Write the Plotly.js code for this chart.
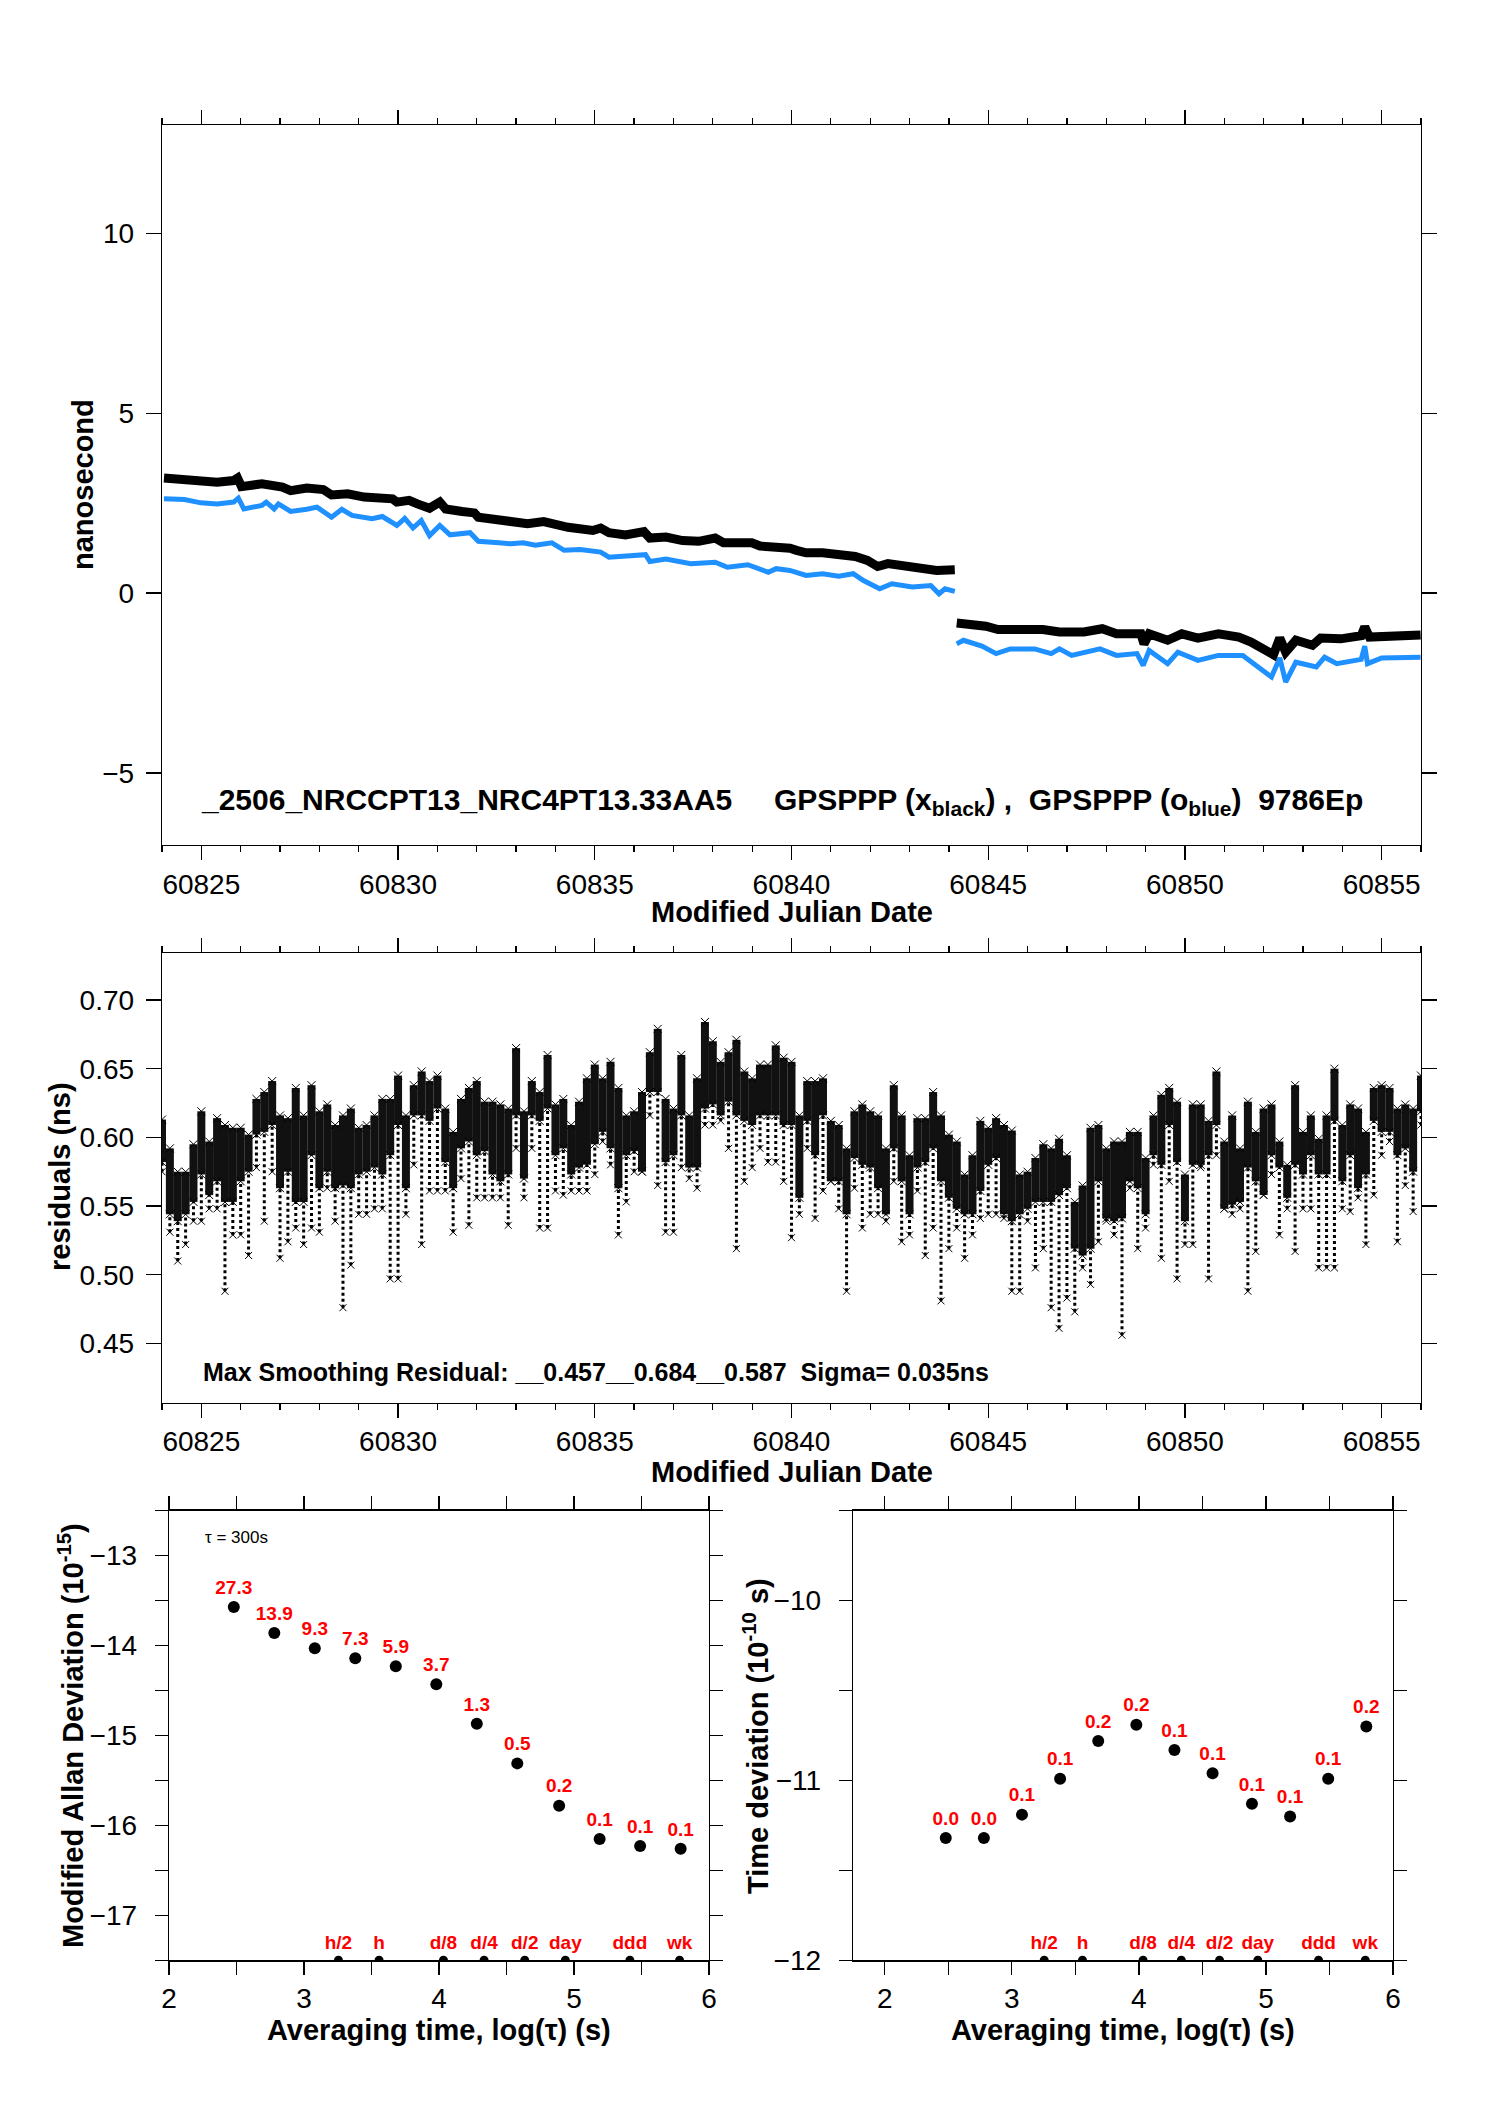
<!DOCTYPE html>
<html><head><meta charset="utf-8">
<script src="https://cdn.plot.ly/plotly-3.0.1.min.js"></script>
<style>html,body{margin:0;padding:0;background:#fff;} #chart{width:1488px;height:2105px;}</style>
</head><body><div id="chart"></div>
<script>
// ---------- Top panel: time series (nanosecond) ----------
const mjdBlack = [60824.05,60824.57,60824.99,60825.40,60825.82,60825.92,60826.02,60826.54,60827.06,60827.27,60827.68,60828.10,60828.31,60828.72,60829.14,60829.55,60829.86,60829.97,60830.28,60830.49,60830.80,60831.06,60831.21,60831.63,60831.94,60832.04,60832.56,60832.97,60833.29,60833.70,60834.01,60834.32,60834.95,60835.15,60835.36,60835.78,60836.25,60836.40,60836.81,60837.23,60837.64,60838.06,60838.27,60838.68,60838.99,60839.20,60839.72,60839.96,60840.13,60840.37,60840.79,60841.20,60841.62,60841.93,60842.19,60842.45,60842.86,60843.28,60843.69,60844.15,null,
60844.20,60844.52,60844.94,60845.25,60845.77,60846.39,60846.81,60847.43,60847.90,60848.26,60848.88,60848.96,60849.09,60849.56,60849.92,60850.33,60850.85,60851.37,60851.68,60851.99,60852.25,60852.41,60852.56,60852.82,60853.24,60853.45,60853.96,60854.48,60854.57,60854.69,60855.31,60855.99];
const nsBlack = [3.20,3.16,3.11,3.08,3.13,3.20,2.96,3.04,2.95,2.85,2.92,2.88,2.73,2.76,2.67,2.67,2.62,2.53,2.58,2.48,2.36,2.53,2.34,2.27,2.23,2.11,2.05,1.97,1.93,1.99,1.90,1.83,1.74,1.81,1.68,1.62,1.71,1.53,1.56,1.46,1.44,1.53,1.40,1.37,1.40,1.31,1.31,1.25,1.19,1.12,1.12,1.08,1.02,0.91,0.74,0.82,0.77,0.70,0.63,0.65,null,
-0.83,-0.85,-0.92,-1.01,-0.99,-1.01,-1.08,-1.08,-0.99,-1.13,-1.13,-1.41,-1.13,-1.31,-1.13,-1.25,-1.13,-1.22,-1.36,-1.57,-1.71,-1.25,-1.64,-1.31,-1.45,-1.25,-1.27,-1.18,-0.94,-1.22,-1.18,-1.16];
const mjdBlue = [60824.05,60824.57,60824.99,60825.40,60825.82,60825.94,60826.08,60826.54,60826.65,60826.85,60826.96,60827.27,60827.68,60827.94,60828.31,60828.57,60828.83,60829.34,60829.60,60829.97,60830.17,60830.38,60830.59,60830.80,60831.06,60831.32,60831.83,60832.04,60832.56,60832.87,60833.18,60833.49,60833.91,60834.22,60834.63,60835.15,60835.36,60835.88,60836.29,60836.40,60836.81,60837.44,60838.06,60838.37,60838.89,60839.41,60839.61,60839.96,60840.37,60840.79,60841.20,60841.57,60841.83,60842.24,60842.55,60843.07,60843.54,60843.75,60843.90,60844.15,null,
60844.20,60844.37,60844.84,60845.20,60845.56,60846.18,60846.60,60846.81,60847.12,60847.84,60848.26,60848.78,60848.94,60849.09,60849.56,60849.82,60850.33,60850.85,60851.47,60851.79,60852.20,60852.41,60852.56,60852.82,60853.34,60853.55,60853.86,60854.48,60854.57,60854.64,60855.00,60855.99];
const nsBlue = [2.62,2.60,2.51,2.48,2.53,2.64,2.34,2.44,2.53,2.34,2.48,2.27,2.33,2.39,2.11,2.33,2.16,2.07,2.13,1.88,2.08,1.81,2.02,1.60,1.88,1.62,1.68,1.44,1.40,1.37,1.40,1.33,1.40,1.19,1.21,1.14,1.00,1.05,1.07,0.88,0.95,0.82,0.86,0.72,0.79,0.58,0.68,0.63,0.49,0.54,0.47,0.54,0.35,0.12,0.26,0.17,0.21,-0.02,0.12,0.05,null,
-1.41,-1.31,-1.47,-1.68,-1.55,-1.55,-1.68,-1.55,-1.73,-1.55,-1.73,-1.68,-2.01,-1.59,-1.96,-1.64,-1.87,-1.73,-1.73,-2.01,-2.33,-1.80,-2.47,-1.92,-2.05,-1.78,-1.96,-1.84,-1.47,-1.96,-1.80,-1.78];

// ---------- Middle panel: residuals (ns), per 0.2-day slice ----------
const resMjd = [60824.0,60824.2,60824.4,60824.6,60824.8,
60825.0,60825.2,60825.4,60825.6,60825.8,60826.0,60826.2,60826.4,60826.6,60826.8,
60827.0,60827.2,60827.4,60827.6,60827.8,60828.0,60828.2,60828.4,60828.6,60828.8,
60829.0,60829.2,60829.4,60829.6,60829.8,60830.0,60830.2,60830.4,60830.6,60830.8,
60831.0,60831.2,60831.4,60831.6,60831.8,60832.0,60832.2,60832.4,60832.6,60832.8,
60833.0,60833.2,60833.4,60833.6,60833.8,60834.0,60834.2,60834.4,60834.6,60834.8,
60835.0,60835.2,60835.4,60835.6,60835.8,60836.0,60836.2,60836.4,60836.6,60836.8,
60837.0,60837.2,60837.4,60837.6,60837.8,60838.0,60838.2,60838.4,60838.6,60838.8,
60839.0,60839.2,60839.4,60839.6,60839.8,60840.0,60840.2,60840.4,60840.6,60840.8,
60841.0,60841.2,60841.4,60841.6,60841.8,60842.0,60842.2,60842.4,60842.6,60842.8,
60843.0,60843.2,60843.4,60843.6,60843.8,60844.0,60844.2,60844.4,60844.6,60844.8,
60845.0,60845.2,60845.4,60845.6,60845.8,60846.0,60846.2,60846.4,60846.6,60846.8,
60847.0,60847.2,60847.4,60847.6,60847.8,60848.0,60848.2,60848.4,60848.6,60848.8,
60849.0,60849.2,60849.4,60849.6,60849.8,60850.0,60850.2,60850.4,60850.6,60850.8,
60851.0,60851.2,60851.4,60851.6,60851.8,60852.0,60852.2,60852.4,60852.6,60852.8,
60853.0,60853.2,60853.4,60853.6,60853.8,60854.0,60854.2,60854.4,60854.6,60854.8,
60855.0,60855.2,60855.4,60855.6,60855.8,60856.0];
const resHi = [0.613,0.592,0.575,0.575,0.595,0.619,0.597,0.614,0.609,0.607,0.607,0.602,0.628,0.633,0.641,0.616,0.614,0.636,0.616,0.638,0.619,0.624,0.609,0.616,0.621,0.607,0.609,0.616,0.628,0.628,0.645,0.616,0.638,0.648,0.641,0.645,0.621,0.604,0.628,0.636,0.641,0.626,0.626,0.624,0.621,0.665,0.619,0.641,0.633,0.660,0.624,0.628,0.609,0.626,
0.643,0.653,0.643,0.655,0.636,0.616,0.619,0.633,0.662,0.679,0.628,0.621,0.660,0.616,0.643,0.684,0.670,0.655,0.662,0.671,0.648,0.643,0.653,0.653,0.667,0.658,0.655,0.616,0.641,0.641,0.643,0.612,0.609,0.592,0.619,0.624,0.619,0.616,0.592,0.638,0.616,0.587,0.614,0.614,0.633,0.616,0.602,0.597,0.573,0.587,0.612,0.607,0.614,
0.609,0.605,0.573,0.575,0.585,0.595,0.592,0.599,0.587,0.553,0.565,0.607,0.609,0.592,0.597,0.597,0.604,0.604,0.585,0.616,0.631,0.636,0.626,0.573,0.624,0.624,0.612,0.648,0.597,0.616,0.592,0.626,0.604,0.621,0.624,0.597,0.580,0.638,0.604,0.616,0.599,0.616,0.650,0.609,0.624,0.621,0.604,0.636,0.638,0.636,0.621,0.624,0.621,0.645];
const resLo = [0.582,0.544,0.539,0.544,0.553,0.573,0.558,0.568,0.553,0.553,0.568,0.575,0.602,0.604,0.609,0.563,0.575,0.553,0.553,0.587,0.563,0.575,0.563,0.565,0.563,0.573,0.575,0.578,0.573,0.587,0.609,0.563,0.616,0.616,0.612,0.621,0.582,0.563,0.592,0.597,0.587,0.590,0.573,0.568,0.573,0.616,0.570,0.616,0.612,0.621,0.587,0.592,0.573,0.578,
0.580,0.595,0.604,0.592,0.563,0.587,0.590,0.575,0.633,0.633,0.582,0.587,0.616,0.578,0.578,0.621,0.624,0.616,0.626,0.616,0.612,0.609,0.616,0.616,0.616,0.609,0.609,0.556,0.612,0.587,0.616,0.568,0.568,0.544,0.585,0.580,0.578,0.563,0.544,0.592,0.568,0.544,0.578,0.582,0.592,0.568,0.556,0.548,0.544,0.544,0.561,0.580,0.585,
0.544,0.539,0.544,0.548,0.553,0.553,0.553,0.558,0.563,0.519,0.514,0.519,0.568,0.541,0.539,0.541,0.568,0.563,0.544,0.587,0.580,0.609,0.582,0.539,0.580,0.580,0.587,0.609,0.548,0.551,0.553,0.578,0.568,0.558,0.587,0.578,0.556,0.580,0.573,0.587,0.573,0.573,0.612,0.568,0.587,0.563,0.573,0.612,0.604,0.604,0.587,0.592,0.575,0.619];
const resTail = [0.575,0.531,0.510,0.522,0.539,0.539,0.548,0.548,0.488,0.529,0.529,0.514,0.578,0.539,0.575,0.512,0.524,0.534,0.522,0.534,0.531,0.563,0.539,0.476,0.507,0.544,0.544,0.548,0.548,0.497,0.497,0.544,0.580,0.522,0.561,0.561,0.561,0.531,0.570,0.536,0.556,0.556,0.556,0.556,0.536,0.592,0.556,0.592,0.534,0.534,0.561,0.558,0.561,0.561,
0.561,0.573,0.597,0.580,0.529,0.553,0.575,0.575,0.616,0.565,0.531,0.531,0.578,0.570,0.563,0.609,0.609,0.612,0.592,0.519,0.568,0.578,0.592,0.582,0.582,0.568,0.527,0.544,0.592,0.541,0.561,0.568,0.548,0.488,0.563,0.534,0.544,0.544,0.539,0.568,0.524,0.529,0.561,0.514,0.534,0.481,0.519,0.534,0.512,0.529,0.541,0.544,0.544,
0.541,0.488,0.488,0.539,0.505,0.519,0.476,0.461,0.483,0.473,0.505,0.493,0.524,0.539,0.529,0.456,0.563,0.519,0.534,0.580,0.512,0.568,0.497,0.522,0.522,0.578,0.497,0.587,0.548,0.544,0.548,0.488,0.517,0.558,0.573,0.529,0.548,0.517,0.548,0.548,0.505,0.505,0.505,0.548,0.546,0.556,0.522,0.558,0.587,0.597,0.524,0.565,0.546,0.609];

// ---------- Bottom panels: stability ----------
const logTau = [2.48,2.78,3.08,3.38,3.68,3.98,4.28,4.58,4.89,5.19,5.49,5.79];
const modAdev = [-13.57,-13.86,-14.03,-14.14,-14.23,-14.43,-14.87,-15.31,-15.78,-16.15,-16.23,-16.26];
const modAdevLabels = ['27.3','13.9','9.3','7.3','5.9','3.7','1.3','0.5','0.2','0.1','0.1','0.1'];
const tdev = [-11.32,-11.32,-11.19,-10.99,-10.78,-10.69,-10.83,-10.96,-11.13,-11.20,-10.99,-10.70];
const tdevLabels = ['0.0','0.0','0.1','0.1','0.2','0.2','0.1','0.1','0.1','0.1','0.1','0.2'];
const periodTau = [3.255,3.556,4.033,4.334,4.635,4.936,5.414,5.782];
const periodLabels = ['h/2','h','d/8','d/4','d/2','day','ddd','wk'];
const adevFloor = -17.5, tdevFloor = -12;

const FONT = 'Liberation Sans, Arial, Helvetica, sans-serif';
const RED = '#ff0000';

function segments(xs, a, b) {
  const X = [], Y = [];
  for (let i = 0; i < xs.length; i++) { X.push(xs[i], xs[i], null); Y.push(a[i], b[i], null); }
  return {X, Y};
}
const core = segments(resMjd, resLo, resHi);
const tail = segments(resMjd, resTail, resLo);
const xMark = (size) => ({symbol: 'x-thin-open', size: size, color: '#000', line: {width: 1, color: '#000'}});

const traces = [
  {x: mjdBlue, y: nsBlue, mode: 'lines', line: {color: '#1e90ff', width: 5}, xaxis: 'x', yaxis: 'y', connectgaps: false},
  {x: mjdBlack, y: nsBlack, mode: 'lines', line: {color: '#000', width: 9}, xaxis: 'x', yaxis: 'y', connectgaps: false},

  {x: tail.X, y: tail.Y, mode: 'lines', line: {color: '#000', width: 3, dash: 'dot'}, xaxis: 'x2', yaxis: 'y2', connectgaps: false},
  {x: resMjd, y: resTail, mode: 'markers', marker: xMark(7), xaxis: 'x2', yaxis: 'y2'},
  {x: core.X, y: core.Y, mode: 'lines', line: {color: '#111', width: 8}, xaxis: 'x2', yaxis: 'y2', connectgaps: false},
  {x: resMjd, y: resHi, mode: 'markers', marker: xMark(8), xaxis: 'x2', yaxis: 'y2'},
  {x: resMjd, y: resLo, mode: 'markers', marker: xMark(8), xaxis: 'x2', yaxis: 'y2'},

  {x: logTau, y: modAdev, mode: 'markers+text', text: modAdevLabels, textposition: 'top center',
   textfont: {family: FONT, size: 19, color: RED, weight: 'bold'}, marker: {size: 12, color: '#000'}, xaxis: 'x3', yaxis: 'y3', cliponaxis: false},
  {x: periodTau, y: periodTau.map(() => adevFloor), mode: 'markers+text', text: periodLabels, textposition: 'top center',
   textfont: {family: FONT, size: 19, color: RED, weight: 'bold'}, marker: {size: 9, color: '#000'}, xaxis: 'x3', yaxis: 'y3'},

  {x: logTau, y: tdev, mode: 'markers+text', text: tdevLabels, textposition: 'top center',
   textfont: {family: FONT, size: 19, color: RED, weight: 'bold'}, marker: {size: 12, color: '#000'}, xaxis: 'x4', yaxis: 'y4', cliponaxis: false},
  {x: periodTau, y: periodTau.map(() => tdevFloor), mode: 'markers+text', text: periodLabels, textposition: 'top center',
   textfont: {family: FONT, size: 19, color: RED, weight: 'bold'}, marker: {size: 9, color: '#000'}, xaxis: 'x4', yaxis: 'y4'}
];

const base = {
  showline: true, linecolor: '#000', linewidth: 1.3, mirror: 'ticks', ticks: 'outside',
  tickcolor: '#000', tickwidth: 1.3, showgrid: false, zeroline: false, automargin: false,
  tickfont: {family: FONT, size: 28, color: '#000'}, fixedrange: true
};
const W = 1488, H = 2105;
const px = v => v / W, py = v => 1 - v / H;
const mjdMinor = {dtick: 1, ticklen: 6, tickwidth: 1.3, tickcolor: '#000', ticks: 'outside'};
const halfMinor = {dtick: 0.5, ticklen: 13, tickwidth: 1.3, tickcolor: '#000', ticks: 'outside'};

const layout = {
  width: W, height: H, margin: {l: 0, r: 0, t: 0, b: 0}, showlegend: false,
  paper_bgcolor: '#fff', plot_bgcolor: '#fff', font: {family: FONT, color: '#000'},
  xaxis: Object.assign({}, base, {domain: [px(162), px(1421)], anchor: 'y', range: [60824, 60856], tick0: 60825, dtick: 5,
    tickformat: 'd', ticklen: 14, ticklabelstandoff: 0, minor: mjdMinor}),
  yaxis: Object.assign({}, base, {domain: [py(845), py(125.4)], anchor: 'x', range: [-7, 13], tick0: 0, dtick: 5, ticklen: 15, ticklabelstandoff: 6}),
  xaxis2: Object.assign({}, base, {domain: [px(162), px(1421)], anchor: 'y2', range: [60824, 60856], tick0: 60825, dtick: 5,
    tickformat: 'd', ticklen: 14, ticklabelstandoff: 0, minor: mjdMinor}),
  yaxis2: Object.assign({}, base, {domain: [py(1402.5), py(953.3)], anchor: 'x2', range: [0.407, 0.734], tick0: 0.45, dtick: 0.05,
    tickformat: '.2f', ticklen: 15, ticklabelstandoff: 6}),
  xaxis3: Object.assign({}, base, {domain: [px(169), px(709)], anchor: 'y3', range: [2, 6], tick0: 2, dtick: 1, ticklen: 13,
    ticklabelstandoff: 0, minor: halfMinor}),
  yaxis3: Object.assign({}, base, {domain: [py(1960.3), py(1510.7)], anchor: 'x3', range: [-17.5, -12.5], tick0: -17, dtick: 1, ticklen: 13,
    ticklabelstandoff: 12, minor: halfMinor}),
  xaxis4: Object.assign({}, base, {domain: [px(853), px(1393)], anchor: 'y4', range: [1.75, 6], tick0: 2, dtick: 1, ticklen: 13,
    ticklabelstandoff: 0, minor: halfMinor}),
  yaxis4: Object.assign({}, base, {domain: [py(1960.3), py(1510.7)], anchor: 'x4', range: [-12, -9.5], tick0: -12, dtick: 1, ticklen: 13,
    ticklabelstandoff: 12, minor: halfMinor}),
  annotations: [
    {xref: 'paper', yref: 'paper', x: px(199), y: py(801), xanchor: 'left', yanchor: 'middle', showarrow: false,
     text: '<b>_2506_NRCCPT13_NRC4PT13.33AA5\u00a0\u00a0\u00a0\u00a0\u00a0GPSPPP (x<sub>black</sub>)\u00a0,\u00a0\u00a0GPSPPP (o<sub>blue</sub>)\u00a0\u00a09786Ep</b>',
     font: {family: FONT, size: 30, color: '#000'}},
    {xref: 'paper', yref: 'paper', x: px(201), y: py(1372), xanchor: 'left', yanchor: 'middle', showarrow: false,
     text: '<b>Max Smoothing Residual: __0.457__0.684__0.587\u00a0\u00a0Sigma= 0.035ns</b>', font: {family: FONT, size: 25, color: '#000'}},
    {xref: 'paper', yref: 'paper', x: px(791.5), y: py(912), xanchor: 'center', yanchor: 'middle', showarrow: false,
     text: '<b>Modified Julian Date</b>', font: {family: FONT, size: 29, color: '#000'}},
    {xref: 'paper', yref: 'paper', x: px(791.5), y: py(1472), xanchor: 'center', yanchor: 'middle', showarrow: false,
     text: '<b>Modified Julian Date</b>', font: {family: FONT, size: 29, color: '#000'}},
    {xref: 'paper', yref: 'paper', x: px(83), y: py(485), xanchor: 'center', yanchor: 'middle', showarrow: false, textangle: -90,
     text: '<b>nanosecond</b>', font: {family: FONT, size: 29, color: '#000'}},
    {xref: 'paper', yref: 'paper', x: px(60), y: py(1177), xanchor: 'center', yanchor: 'middle', showarrow: false, textangle: -90,
     text: '<b>residuals (ns)</b>', font: {family: FONT, size: 29, color: '#000'}},
    {xref: 'paper', yref: 'paper', x: px(71), y: py(1736), xanchor: 'center', yanchor: 'middle', showarrow: false, textangle: -90,
     text: '<b>Modified Allan Deviation (10<sup>-15</sup>)</b>', font: {family: FONT, size: 29, color: '#000'}},
    {xref: 'paper', yref: 'paper', x: px(756), y: py(1736), xanchor: 'center', yanchor: 'middle', showarrow: false, textangle: -90,
     text: '<b>Time deviation (10<sup>-10</sup> s)</b>', font: {family: FONT, size: 29, color: '#000'}},
    {xref: 'paper', yref: 'paper', x: px(439), y: py(2030), xanchor: 'center', yanchor: 'middle', showarrow: false,
     text: '<b>Averaging time, log(\u03c4) (s)</b>', font: {family: FONT, size: 29, color: '#000'}},
    {xref: 'paper', yref: 'paper', x: px(1123), y: py(2030), xanchor: 'center', yanchor: 'middle', showarrow: false,
     text: '<b>Averaging time, log(\u03c4) (s)</b>', font: {family: FONT, size: 29, color: '#000'}},
    {xref: 'paper', yref: 'paper', x: px(203), y: py(1537), xanchor: 'left', yanchor: 'middle', showarrow: false,
     text: '\u03c4 = 300s', font: {family: FONT, size: 17, color: '#000'}}
  ]
};

Plotly.newPlot('chart', traces, layout, {staticPlot: true, displayModeBar: false});
</script>
</body></html>
